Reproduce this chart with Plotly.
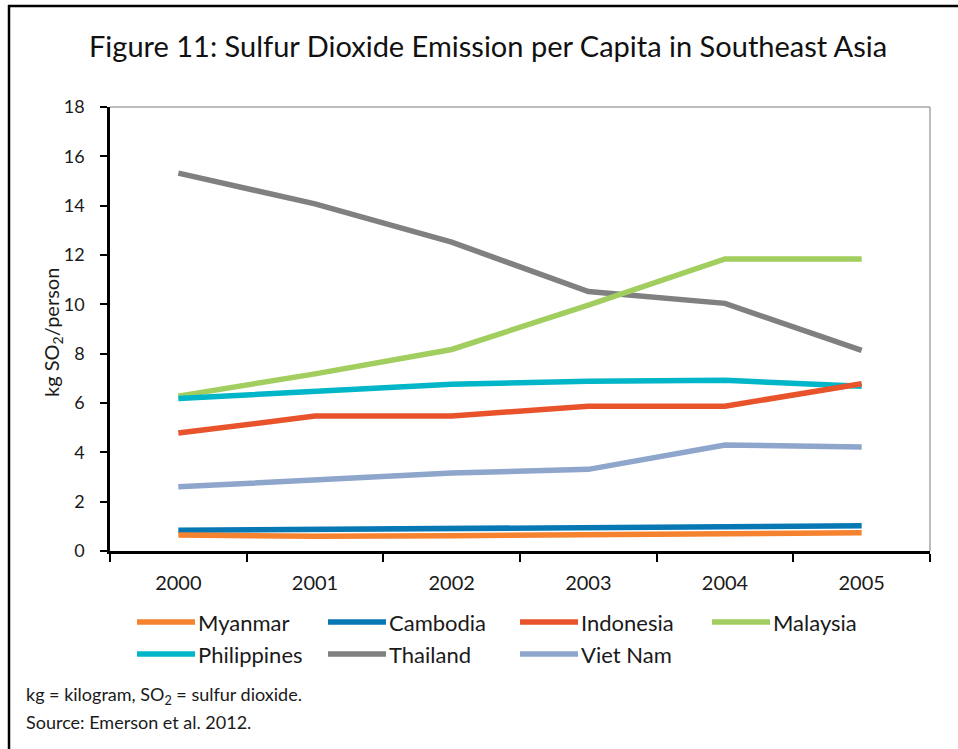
import plotly.graph_objects as go

years = ["2000", "2001", "2002", "2003", "2004", "2005"]
myanmar = [0.65, 0.60, 0.62, 0.67, 0.70, 0.74]
cambodia = [0.84, 0.87, 0.90, 0.93, 0.96, 1.02]
indonesia = [4.78, 5.47, 5.47, 5.87, 5.87, 6.78]
malaysia = [6.28, 7.18, 8.17, 9.97, 11.84, 11.84]
philippines = [6.18, 6.45, 6.76, 6.88, 6.92, 6.68]
thailand = [15.32, 14.07, 12.52, 10.52, 10.04, 8.13]
vietnam = [2.60, 2.90, 3.16, 3.31, 4.30, 4.22]

series_names = ["Myanmar", "Cambodia", "Indonesia", "Malaysia", "Philippines", "Thailand", "Viet Nam"]
series_values = [myanmar, cambodia, indonesia, malaysia, philippines, thailand, vietnam]
series_colors = ["#F5822F", "#0878B4", "#E8532B", "#A1CE5E", "#00B6C8", "#808080", "#8EA5CC"]

y_ticks = [0, 2, 4, 6, 8, 10, 12, 14, 16, 18]

FONT = "Lato"
W, H = 958, 749
L, R, T, B = 110, 28, 107, 198
PW, PH = W - L - R, H - T - B


def px(x):
    return (x - L) / PW


def py(y):
    return (H - B - y) / PH


fig = go.Figure()
order = [5, 3, 4, 2, 6, 1, 0]
for i in order:
    fig.add_trace(go.Scatter(
        x=years, y=series_values[i], name=series_names[i], mode="lines",
        line=dict(color=series_colors[i], width=5.5), showlegend=False,
    ))

shapes = []
annotations = []

# outer frame (left and top only)
shapes.append(dict(type="line", xref="paper", yref="paper", x0=px(9), x1=px(9), y0=py(5), y1=py(760),
                   line=dict(color="black", width=2.5)))
shapes.append(dict(type="line", xref="paper", yref="paper", x0=px(8), x1=px(970), y0=py(6), y1=py(6),
                   line=dict(color="black", width=2.5)))
# gray plot border top and right
shapes.append(dict(type="line", xref="paper", yref="paper", x0=px(110), x1=px(930), y0=1, y1=1,
                   line=dict(color="#A6A6A6", width=1.5)))
shapes.append(dict(type="line", xref="paper", yref="paper", x0=1, x1=1, y0=1, y1=0,
                   line=dict(color="#A6A6A6", width=1.5)))

# custom legend
leg_cols = [137, 328, 520, 712]
leg_rows = [622, 654]
for k, name in enumerate(series_names):
    r, c = divmod(k, 4)
    x0 = leg_cols[c]
    yy = leg_rows[r]
    shapes.append(dict(type="line", xref="paper", yref="paper", x0=px(x0), x1=px(x0 + 58),
                       y0=py(yy), y1=py(yy), line=dict(color=series_colors[k], width=5.5)))
    annotations.append(dict(xref="paper", yref="paper", x=px(x0 + 59), y=py(yy), text=name,
                            showarrow=False, xanchor="left", yanchor="middle",
                            font=dict(family=FONT, size=22, color="#1a1a1a")))

# title
annotations.append(dict(xref="paper", yref="paper", x=px(488), y=py(45),
                        text="Figure 11: Sulfur Dioxide Emission per Capita in Southeast Asia",
                        showarrow=False, xanchor="center", yanchor="middle",
                        font=dict(family=FONT, size=29, color="#111111")))
# y axis title
annotations.append(dict(xref="paper", yref="paper", x=px(52), y=py(333),
                        text="kg SO<sub>2</sub>/person", textangle=-90,
                        showarrow=False, xanchor="center", yanchor="middle",
                        font=dict(family=FONT, size=20, color="#1a1a1a")))
# notes
annotations.append(dict(xref="paper", yref="paper", x=px(24), y=py(695),
                        text="kg = kilogram, SO<sub>2</sub> = sulfur dioxide.",
                        showarrow=False, xanchor="left", yanchor="middle",
                        font=dict(family=FONT, size=18, color="#1a1a1a")))
annotations.append(dict(xref="paper", yref="paper", x=px(24), y=py(722),
                        text="Source: Emerson et al. 2012.",
                        showarrow=False, xanchor="left", yanchor="middle",
                        font=dict(family=FONT, size=18, color="#1a1a1a")))

fig.update_layout(
    width=W, height=H,
    margin=dict(l=L, r=R, t=T, b=B),
    paper_bgcolor="white", plot_bgcolor="white",
    font=dict(family=FONT, size=17, color="#1a1a1a"),
    shapes=shapes, annotations=annotations,
    showlegend=False,
)
fig.update_xaxes(
    type="category", range=[-0.5, 5.5], tickson="boundaries", ticks="outside", ticklen=8, tickwidth=1.5,
    tickcolor="black", showline=True, linecolor="black", linewidth=2.5,
    showgrid=False, zeroline=False, ticklabelstandoff=12,
    tickfont=dict(family=FONT, size=20, color="#1a1a1a"),
)
fig.update_yaxes(
    range=[0, 18], tickvals=y_ticks, ticks="outside", ticklen=7, tickwidth=1.5,
    tickcolor="black", showline=True, linecolor="black", linewidth=2.5,
    showgrid=False, zeroline=False, ticklabelstandoff=12,
    tickfont=dict(family=FONT, size=18, color="#1a1a1a"),
)

fig.write_html("out.html", config={"displayModeBar": False},
               post_script="document.body.style.margin='0px';")
